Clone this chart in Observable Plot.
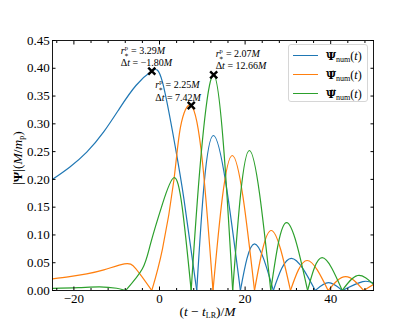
<!DOCTYPE html>
<html><head><meta charset="utf-8">
<script src="https://cdn.jsdelivr.net/npm/d3@7"></script>
<script src="https://cdn.jsdelivr.net/npm/@observablehq/plot@0.6"></script>
<style>
body{margin:0;background:#fff;}
#wrap{position:relative;width:415px;height:332px;font-family:'Liberation Serif','DejaVu Serif',serif;color:#000;}
#wrap svg{position:absolute;left:0;top:0;}
.legend{position:absolute;left:288px;top:44px;width:80px;height:58px;border:1px solid #d6d6d6;border-radius:3px;background:rgba(255,255,255,0.8);box-sizing:border-box;}
.row{position:absolute;left:0;height:18px;width:80px;}
.sw{position:absolute;left:4px;top:8px;width:25px;height:0;border-top:1.4px solid;}
.lt{position:absolute;left:37px;top:0;font-size:12px;line-height:18px;white-space:nowrap;}
.lt b{font-family:'DejaVu Serif',serif;font-size:11px;}
sub{font-size:8px;vertical-align:-2px;line-height:0;}
.xl{position:absolute;left:0;width:415px;top:304px;text-align:center;font-size:13.5px;}
.yl{position:absolute;left:-42px;top:150px;width:120px;text-align:center;font-size:13.5px;transform:rotate(-90deg);}
i{font-style:italic;}
</style></head>
<body><div id="wrap"></div>
<script>
// ---- data ----
const seriesNames = ["Psi", "dPsi", "ddPsi"];
const seriesColors = ["#1f77b4", "#ff7f0e", "#2ca02c"];

const blueT = [-25,-21,-17,-13,-9.4,-5.5,-1.8,0.7,3.7,5.7,8.7,12.6,18.9,22.2,26.6,30.8,36.4,39.5,42.7,47.5,50];
const blueV = [0.200,0.222,0.249,0.286,0.327,0.369,0.395,0.375,0.258,0.165,0,0.279,0,0.084,0,0.058,0,0.014,0,0.016,0.013];

const orangeT = [-25,-21,-17,-13,-8.2,-5.5,-1.8,0.7,3.35,4.9,7.42,10,12.5,17,22.2,26.1,30.6,34.5,39.4,43.5,47.7,50];
const orangeV = [0.021,0.025,0.030,0.037,0.048,0.039,0,0.075,0.198,0.294,0.333,0.234,0,0.243,0,0.108,0,0.054,0,0.025,0,0.011];

const greenT = [-25,-19,-14,-10,-7.9,-4,-2.1,0.7,3.35,5.3,7.4,9.6,12.66,15.3,17.1,21,26,29.7,34.6,38,42.7,46.3,50];
const greenV = [0.004,0.005,0.0065,0.004,0,0.039,0.084,0.156,0.203,0.150,0,0.234,0.388,0.225,0,0.252,0,0.122,0,0.059,0,0.027,0.011];

const peakT = [-1.80, 7.42, 12.66];
const peakV = [0.395, 0.333, 0.388];
const peakR = ["3.29", "2.25", "2.07"];
const peakDt = ["\u22121.80", "7.42", "12.66"];

const xMajor = [-20, 0, 20, 40];
const xMinor = [-24,-16,-12,-8,-4,4,8,12,16,24,28,32,36,44,48];
const yMajor = [0,0.05,0.10,0.15,0.20,0.25,0.30,0.35,0.40,0.45];

// split each series into arches at its zeros
function segments(T, V, name) {
  const out = []; let seg = 0;
  T.forEach((t, i) => {
    out.push({t, v: V[i], seg: name + seg, name});
    if (V[i] === 0 && i > 0 && i < T.length - 1) { seg++; out.push({t, v: 0, seg: name + seg, name}); }
  });
  return out;
}
const lines = [
  segments(blueT, blueV, seriesNames[0]),
  segments(orangeT, orangeV, seriesNames[1]),
  segments(greenT, greenV, seriesNames[2])
];
const peaks = peakT.map((t, i) => ({t, v: peakV[i], r: peakR[i], dt: peakDt[i]}));

const offs = [{dx:-31, d1:-20, d2:-8.5}, {dx:-36, d1:-20.5, d2:-8}, {dx:2, d1:-21, d2:-9.5}];
const annMarks = [];
peaks.forEach((p, i) => {
  annMarks.push(Plot.text([p], {x:"t", y:"v", text:"r", dx:offs[i].dx, dy:offs[i].d1, textAnchor:"start", fontSize:10, ariaDescription:"annr"}));
  annMarks.push(Plot.text([p], {x:"t", y:"v", text:"dt", dx:offs[i].dx, dy:offs[i].d2, textAnchor:"start", fontSize:10, ariaDescription:"annd"}));
});

const blank = () => "";
const chart = Plot.plot({
  width: 415, height: 332,
  marginLeft: 52, marginRight: 42, marginTop: 40, marginBottom: 42,
  style: {fontFamily: "'Liberation Serif','DejaVu Serif',serif", fontSize: "13px", color: "#000", background: "transparent"},
  x: {domain: [-25, 50]},
  y: {domain: [0, 0.45]},
  marks: [
    ...lines.map((d, i) => Plot.line(d, {x:"t", y:"v", z:"seg", stroke: seriesColors[i], strokeWidth: 1.2, curve: "natural", clip: true})),
    Plot.dot(peaks, {x:"t", y:"v", symbol:"times", r:3.3, stroke:"black", strokeWidth:2.4}),
    ...annMarks,
    Plot.axisX(xMajor, {anchor:"bottom", tickSize:-3.5, tickPadding:7, label:null, stroke:"black"}),
    Plot.axisX(xMajor, {anchor:"top", tickSize:-3.5, tickFormat:blank, label:null, stroke:"black"}),
    Plot.axisX(xMinor, {anchor:"bottom", tickSize:-2, tickFormat:blank, label:null, stroke:"black"}),
    Plot.axisX(xMinor, {anchor:"top", tickSize:-2, tickFormat:blank, label:null, stroke:"black"}),
    Plot.axisY(yMajor, {anchor:"left", tickSize:-3.5, tickPadding:6.2, tickFormat:".2f", label:null, stroke:"black"}),
    Plot.axisY(yMajor, {anchor:"right", tickSize:-3.5, tickFormat:blank, label:null, stroke:"black"}),
    Plot.frame({stroke:"black", strokeWidth:0.9})
  ]
});
const wrap = document.getElementById("wrap");
wrap.appendChild(chart);

// math formatting of annotations (matched by their values)
chart.querySelectorAll("text").forEach(el => {
  const v = el.textContent;
  if (peakR.includes(v)) {
    el.innerHTML = `<tspan font-style="italic">r</tspan><tspan font-size="6.5" dy="-4">p</tspan><tspan font-size="6.5" dx="-3.8" dy="6.5">\u2217</tspan><tspan dy="-2.5"> = ${v}</tspan><tspan font-style="italic">M</tspan>`;
  } else if (peakDt.includes(v)) {
    el.innerHTML = `\u0394<tspan font-style="italic">t</tspan> = ${v}<tspan font-style="italic">M</tspan>`;
  }
});

// legend
const legend = document.createElement("div");
legend.className = "legend";
const accents = ["", "\u0307", "\u0308"];
seriesColors.forEach((c, i) => {
  const row = document.createElement("div");
  row.className = "row";
  row.style.top = (2 + i * 19) + "px";
  row.innerHTML = `<div class="sw" style="border-color:${c}"></div><div class="lt"><b>\u03A8${accents[i]}</b><sub>num</sub>(<i>t</i>)</div>`;
  legend.appendChild(row);
});
wrap.appendChild(legend);

// axis labels
const xl = document.createElement("div");
xl.className = "xl";
xl.innerHTML = `(<i>t</i> \u2212 <i>t</i><sub>LR</sub>)/<i>M</i>`;
wrap.appendChild(xl);
const yl = document.createElement("div");
yl.className = "yl";
yl.innerHTML = `|<b>\u03A8</b>|(<i>M</i>/<i>m</i><sub>p</sub>)`;
wrap.appendChild(yl);
</script>
</body></html>
